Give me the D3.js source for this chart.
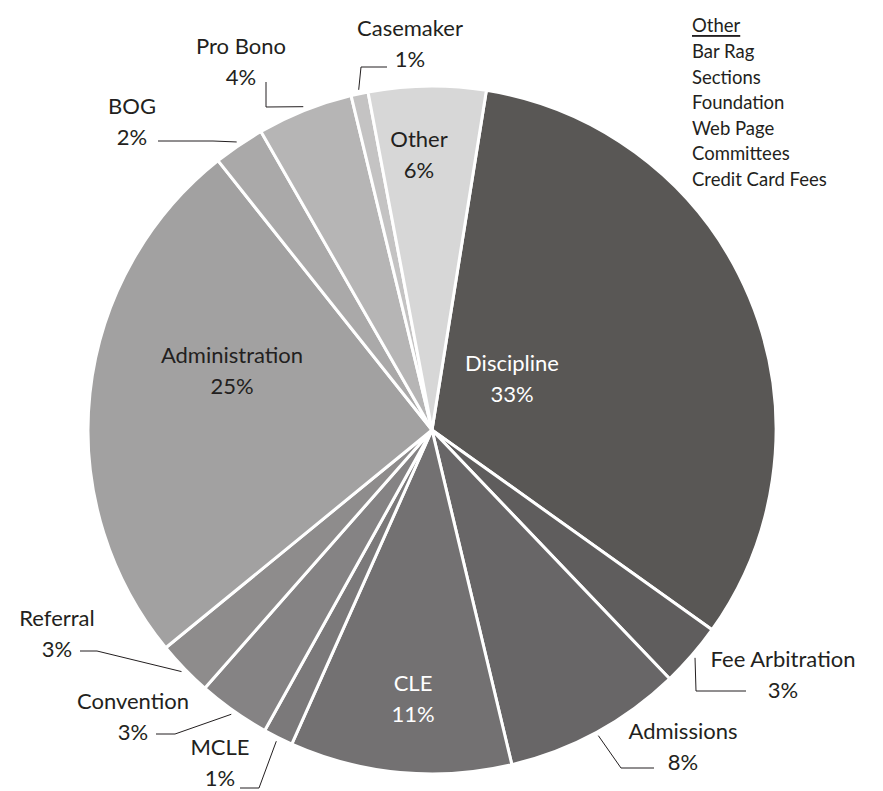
<!DOCTYPE html>
<html>
  <head>
    <meta charset="utf-8">
    <title>Expenses</title>
    <script src="https://d3js.org/d3.v7.min.js"></script>
    <style>
      body { margin: 0; background: #fff; }
      text { font-family: Lato, "Open Sans", sans-serif; fill: #231f20; }
    </style>
  </head>
  <body>

    <script>
      // ==================
      // Data
      // ==================
      const categories = ["Discipline", "Fee Arbitration", "Admissions", "CLE", "MCLE", "Convention",
                          "Referral", "Administration", "BOG", "Pro Bono", "Casemaker", "Other"];
      const shares = [32.3, 3.0, 8.4, 10.4, 1.4, 3.4, 2.6, 25.2, 2.4, 4.5, 0.8, 5.5];
      const shareLabels = ["33%", "3%", "8%", "11%", "1%", "3%", "3%", "25%", "2%", "4%", "1%", "6%"];
      const otherItems = ["Bar Rag", "Sections", "Foundation", "Web Page", "Committees", "Credit Card Fees"];

      const colors = ["#595755", "#5f5d5d", "#686667", "#737172", "#7b797a", "#858384",
                      "#8e8c8c", "#a2a1a1", "#aaa9a9", "#b6b5b5", "#c4c3c3", "#d7d7d7"];

      // label layout: [x, y] of first line, white text, leader path (elbow, end)
      const layout = {
        "Discipline":      {at: [512, 362], white: true},
        "Administration":  {at: [232, 354]},
        "CLE":             {at: [413, 682], white: true},
        "Other":           {at: [419, 138]},
        "Casemaker":       {at: [410, 27],  leader: [[361, 67], [387, 67]]},
        "Pro Bono":        {at: [241, 45],  leader: [[266, 107], [266, 82]]},
        "BOG":             {at: [132, 105], leader: [[213, 141], [158, 141]]},
        "Referral":        {at: [57, 617],  leader: [[97, 651], [80, 651]]},
        "Convention":      {at: [133, 700], leader: [[175, 734], [156, 734]]},
        "MCLE":            {at: [220, 746], leader: [[259, 788], [240, 788]]},
        "Fee Arbitration": {at: [783, 658], leader: [[696, 691], [746, 691]]},
        "Admissions":      {at: [683, 730], leader: [[621, 768], [654, 768]]}
      };

      const width = 883;
      const height = 791;
      const cx = 432;
      const cy = 430;
      const radius = 344;
      const lineGap = 31;

      const svg = d3.select("body")
        .append("svg")
          .attr("width", width)
          .attr("height", height);

      const color = d3.scaleOrdinal().domain(categories).range(colors);

      const start = 9.1 * Math.PI / 180;
      const pie = d3.pie()
        .sort(null)
        .startAngle(start)
        .endAngle(start + 2 * Math.PI)
        .value(function(d) { return d.value; });

      const slices = pie(categories.map(function(c, i) {
        return {name: c, value: shares[i], label: shareLabels[i]};
      }));

      const arc = d3.arc().innerRadius(0).outerRadius(radius);
      const edge = d3.arc().innerRadius(radius + 4).outerRadius(radius + 4);

      const g = svg.append("g")
        .attr("transform", "translate(" + cx + "," + cy + ")");

      g.selectAll("path.slice")
        .data(slices)
        .enter()
        .append("path")
          .attr("class", "slice")
          .attr("d", arc)
          .attr("fill", function(d) { return color(d.data.name); })
          .attr("stroke", "#fff")
          .attr("stroke-width", 3)
          .attr("stroke-linejoin", "round");

      // leader lines
      slices.forEach(function(d) {
        const lay = layout[d.data.name];
        if (!lay.leader) return;
        const p = edge.centroid(d);
        const pts = [[p[0] + cx, p[1] + cy]].concat(lay.leader);
        svg.append("path")
          .attr("d", d3.line()(pts))
          .attr("fill", "none")
          .attr("stroke", "#231f20")
          .attr("stroke-width", 1);
      });

      // labels
      slices.forEach(function(d) {
        const lay = layout[d.data.name];
        const t = svg.append("text")
          .attr("text-anchor", "middle")
          .attr("font-size", 22)
          .style("fill", lay.white ? "#fff" : "#231f20");
        t.append("tspan")
          .attr("x", lay.at[0])
          .attr("y", lay.at[1])
          .attr("dominant-baseline", "central")
          .text(d.data.name);
        t.append("tspan")
          .attr("x", lay.at[0])
          .attr("y", lay.at[1] + lineGap)
          .attr("dominant-baseline", "central")
          .text(d.data.label);
      });

      // breakdown of "Other"
      const list = svg.append("g")
        .attr("transform", "translate(692,0)");

      list.append("text")
        .attr("y", 25)
        .attr("dominant-baseline", "central")
        .attr("font-size", 18.5)
        .style("text-decoration", "underline")
        .text("Other");

      list.selectAll("text.item")
        .data(otherItems)
        .enter()
        .append("text")
          .attr("class", "item")
          .attr("y", function(d, i) { return 51 + i * 25.5; })
          .attr("dominant-baseline", "central")
          .attr("font-size", 18.5)
          .text(function(d) { return d; });
    </script>
  </body>
</html>
